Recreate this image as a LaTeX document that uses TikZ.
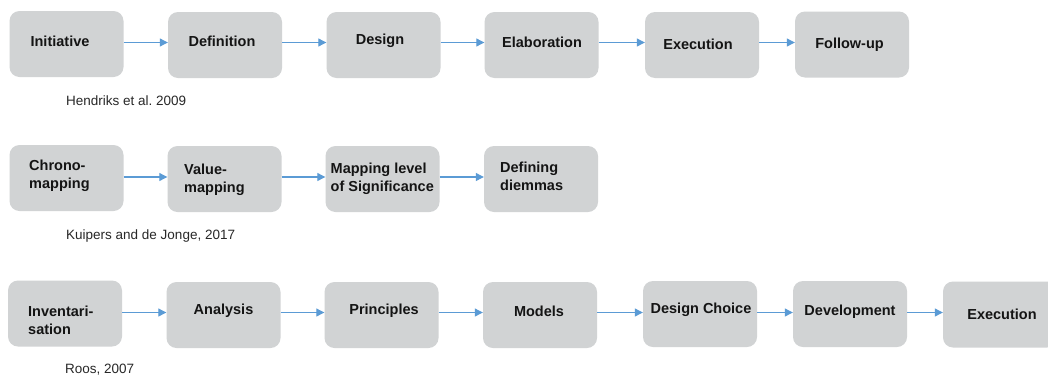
\documentclass[tikz,border=0pt]{standalone}
\usepackage{fontspec}
\setmainfont{Liberation Sans}
\usetikzlibrary{arrows.meta}
\frenchspacing
\definecolor{boxgray}{RGB}{209,211,212}
\definecolor{arrowblue}{RGB}{91,155,213}
\definecolor{txt}{RGB}{20,20,20}
\definecolor{captxt}{RGB}{40,40,40}
\tikzset{
  stepbox/.style={fill=boxgray, rounded corners=10pt, minimum width=114pt, minimum height=66pt, inner sep=0pt, draw=none},
  boxtext/.style={font=\fontsize{14.5}{18}\selectfont\bfseries, text=txt, align=left, inner sep=0pt},
  caption/.style={font=\fontsize{13.5}{16}\selectfont, text=captxt, anchor=west, inner sep=0pt},
  flow/.style={draw=arrowblue, line width=1.1pt, -{Triangle[length=8pt,width=8pt]}}
}
\begin{document}
\begin{tikzpicture}[x=1pt,y=-1pt]
\clip (0,0) rectangle (1048,378);
\fill[white] (0,0) rectangle (1048,378);

% Row 1
\node[stepbox] (a1) at (66.5,44) {};
\node[stepbox] (a2) at (225,45) {};
\node[stepbox] (a3) at (383.5,45) {};
\node[stepbox] (a4) at (541.5,45) {};
\node[stepbox] (a5) at (702,45) {};
\node[stepbox] (a6) at (852,44.5) {};
\node[boxtext] (ta1) at (60,41) {Initiative};
\node[boxtext] (ta2) at (222,41) {Definition};
\node[boxtext] (ta3) at (380,41) {Design};
\node[boxtext] (ta4) at (542,42) {Elaboration};
\node[boxtext] (ta5) at (698,44) {Execution};
\node[boxtext] (ta6) at (849.5,45) {Follow-up};
\coordinate (ya) at (0,42.5);
\foreach \p/\q in {a1/a2,a2/a3,a3/a4,a4/a5,a5/a6}
  \draw[flow] (\p.east |- ya) -- (\q.west |- ya);
\node[caption] (ca) at (66,101) {Hendriks et al. 2009};

% Row 2
\node[stepbox] (b1) at (66.5,178) {};
\node[stepbox] (b2) at (224.5,179) {};
\node[stepbox] (b3) at (382.5,179) {};
\node[stepbox] (b4) at (541,179) {};
\node[boxtext, anchor=west] (tb1) at (29,176) {Chrono-\\mapping};
\node[boxtext, anchor=west] (tb2) at (184,180) {Value-\\mapping};
\node[boxtext, anchor=west] (tb3) at (330.5,179) {Mapping level\\of Significance};
\node[boxtext, anchor=west] (tb4) at (500,176) {Defining\\diemmas};
\coordinate (yb) at (0,177);
\foreach \p/\q in {b1/b2,b2/b3,b3/b4}
  \draw[flow] (\p.east |- yb) -- (\q.west |- yb);
\node[caption] (cb) at (66,236) {Kuipers and de Jonge, 2017};

% Row 3
\node[stepbox] (c1) at (65,313.5) {};
\node[stepbox] (c2) at (223.5,315) {};
\node[stepbox] (c3) at (381.5,315) {};
\node[stepbox] (c4) at (540,315) {};
\node[stepbox] (c5) at (700,314) {};
\node[stepbox] (c6) at (850,314) {};
\node[stepbox] (c7) at (1000,314.5) {};
\node[boxtext, anchor=west] (tc1) at (28,320) {Inventari-\\sation};
\node[boxtext] (tc2) at (223.5,311) {Analysis};
\node[boxtext] (tc3) at (384,311) {Principles};
\node[boxtext] (tc4) at (539,311) {Models};
\node[boxtext] (tc5) at (701,310) {Design Choice};
\node[boxtext] (tc6) at (850,312) {Development};
\node[boxtext] (tc7) at (1002,314) {Execution};
\coordinate (yc) at (0,312.5);
\foreach \p/\q in {c1/c2,c2/c3,c3/c4,c4/c5,c5/c6,c6/c7}
  \draw[flow] (\p.east |- yc) -- (\q.west |- yc);
\node[caption] (cc) at (65,370) {Roos, 2007};
\end{tikzpicture}
\end{document}
